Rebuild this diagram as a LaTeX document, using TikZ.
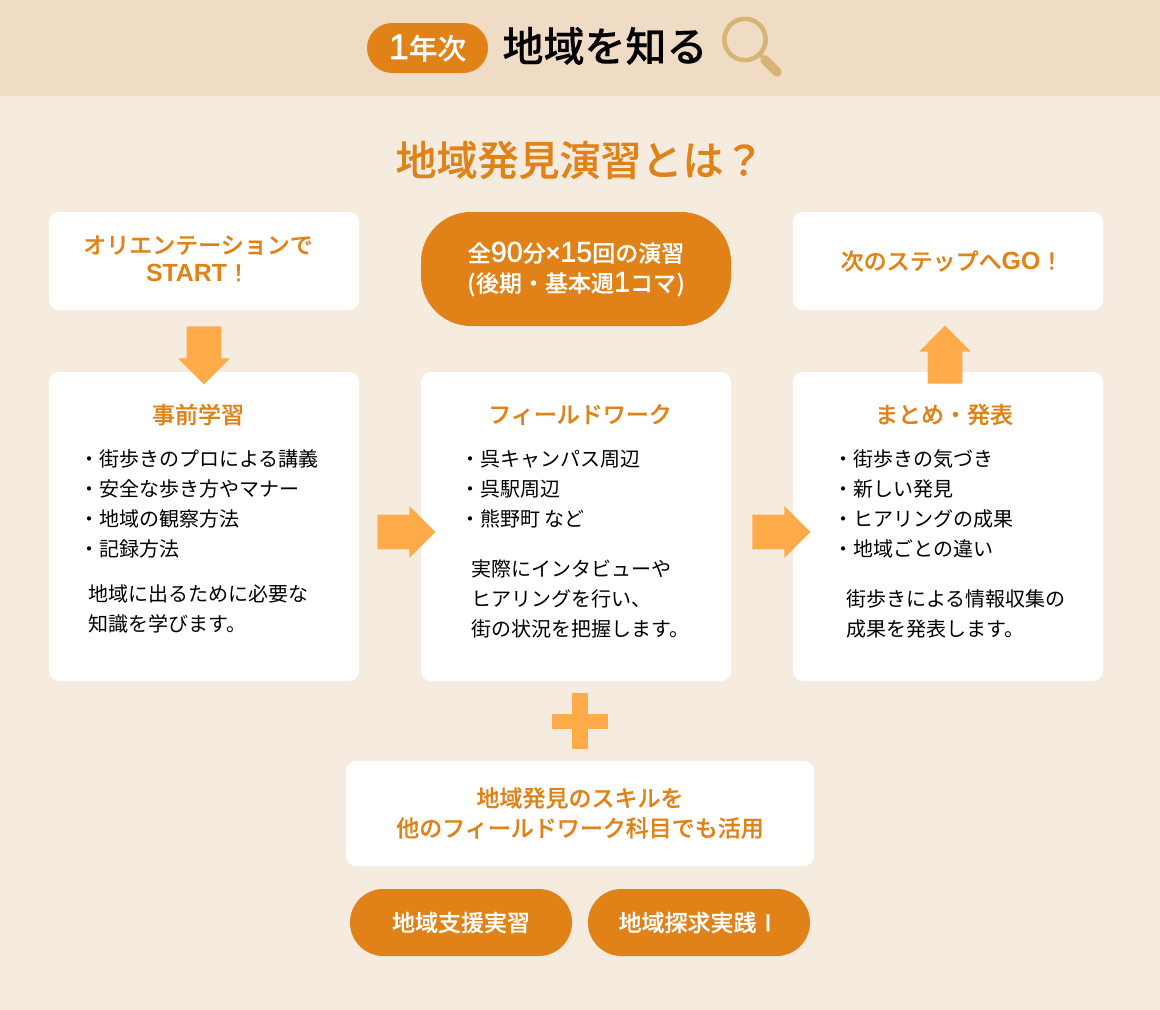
\documentclass[tikz,border=0pt]{standalone}
\usepackage{fontspec}
\setmainfont{Noto Sans CJK JP}[BoldFont={Noto Sans CJK JP Medium},BoldFeatures={FakeBold=0.25}]
\newfontfamily\latinfont[Scale=1.08]{Liberation Sans}
\newfontfamily\digitfont[Scale=1.25,FakeBold=1.2]{Liberation Sans}
\usetikzlibrary{shapes.arrows}
\definecolor{bandcol}{HTML}{F0DCC4}
\definecolor{pagecol}{HTML}{F5EBDF}
\definecolor{orangecol}{HTML}{E08217}
\definecolor{arrowcol}{HTML}{FFAB4A}
\definecolor{lenscol}{HTML}{D5B574}
\newcommand{\lat}[1]{{\latinfont\bfseries #1}}
\newcommand{\digits}[1]{{\digitfont\mdseries #1}}
\tikzset{
	card/.style={fill=white, rounded corners=7.5pt, inner sep=0pt, minimum width=232.5pt},
	pill/.style={fill=orangecol, text=white, inner sep=0pt, align=center, font=\fontsize{17.25}{22.5}\selectfont\bfseries},
	heading/.style={text=orangecol, inner sep=0pt, align=center, font=\fontsize{17.25}{22.5}\selectfont\bfseries},
	body/.style={inner sep=0pt, anchor=west, align=left, font=\fontsize{15}{22.5}\selectfont},
	blockarrow/.style={single arrow, fill=arrowcol, anchor=tail, inner xsep=0pt, inner ysep=12.75pt, minimum width=39pt, minimum height=43.5pt, single arrow head extend=6.4pt, single arrow tip angle=90},
	uprightarrow/.style={blockarrow, inner xsep=12.75pt, inner ysep=0pt},
}
\begin{document}
\begin{tikzpicture}[x=0.75pt, y=-0.75pt]
	\useasboundingbox (0,0) rectangle (1160,1010);
	\fill[pagecol] (0,0) rectangle (1160,1010);
	\fill[bandcol] (0,0) rectangle (1160,96);

	\node[pill, rounded corners=18.75pt, minimum width=90.75pt, minimum height=37.5pt, font=\fontsize{21.5}{26}\selectfont\bfseries] (badge) at (427.5,48) {\digits{1}年次};
	\node[inner sep=0pt, font=\fontsize{30.75}{36}\selectfont\bfseries] (theme) at (605,46) {地域を知る};
	\node[circle, draw=lenscol, line width=3.4pt, inner sep=0pt, minimum size=31pt] (lens) at (745,39.5) {};
	\coordinate (grip) at (765,60);
	\coordinate (grend) at (777,72);
	\draw[lenscol, line width=2.6pt] (lens) ++(16,16) -- (grip);
	\draw[lenscol, line width=7pt, line cap=round] (grip) -- (grend);
	\node[heading, font=\fontsize{30.75}{36}\selectfont\bfseries] (title) at (580,160) {地域発見演習とは？};

	\node[card, minimum height=73.5pt] (start) at (204,261) {};
	\node[heading, font=\fontsize{17.25}{21}\selectfont\bfseries] (startlabel) at (198,258.5) {オリエンテーションで\\\lat{START}！};
	\node[pill, rounded corners=37.5pt, minimum width=232.5pt, minimum height=85.5pt] (course) at (576,269) {全\digits{90}分\lat{×}\digits{15}回の演習\\(\hspace{0.5pt}後期・基本週\digits{1}コマ\hspace{0.5pt})};
	\node[card, minimum height=73.5pt] (next) at (948,261) {};
	\node[heading] (nextlabel) at (952,261) {次のステップへ\lat{GO}！};

	\node[card, minimum height=231.75pt] (prep) at (204,526.5) {};
	\node[card, minimum height=231.75pt] (field) at (576,526.5) {};
	\node[card, minimum height=231.75pt] (report) at (948,526.5) {};

	\node[heading] (preptitle) at (198,414.5) {事前学習};
	\node[body] (preplist) at (79,504) {・街歩きのプロによる講義\\・安全な歩き方やマナー\\・地域の観察方法\\・記録方法};
	\node[body] (preptext) at (88,609) {地域に出るために必要な\\知識を学びます。};

	\node[heading] (fieldtitle) at (580,414.5) {フィールドワーク};
	\node[body] (fieldlist) at (460,489) {・呉キャンパス周辺\\・呉駅周辺\\・熊野町 など};
	\node[body] (fieldtext) at (471,599) {実際にインタビューや\\ヒアリングを行い、\\街の状況を把握します。};

	\node[heading] (reporttitle) at (944,414.5) {まとめ・発表};
	\node[body] (reportlist) at (833,504) {・街歩きの気づき\\・新しい発見\\・ヒアリングの成果\\・地域ごとの違い};
	\node[body] (reporttext) at (846,614) {街歩きによる情報収集の\\成果を発表します。};

	\node[uprightarrow, shape border rotate=270] (arrowdown) at (204,326) {};
	\node[uprightarrow, shape border rotate=90] (arrowup) at (945,384) {};
	\node[blockarrow] (arrowa) at (377,532) {};
	\node[blockarrow] (arrowb) at (752,532) {};

	\fill[arrowcol] (572,693) rectangle (588,749);
	\fill[arrowcol] (552,714) rectangle (608,729);

	\node[card, minimum width=351pt, minimum height=78.75pt] (skill) at (580,813.5) {};
	\node[heading] (skilllabel) at (580,813) {地域発見のスキルを\\他のフィールドワーク科目でも活用};
	\node[pill, rounded corners=25pt, minimum width=166.5pt, minimum height=50.25pt] (support) at (461,922.5) {地域支援実習};
	\node[pill, rounded corners=25pt, minimum width=166.5pt, minimum height=50.25pt] (explore) at (699,922.5) {地域探求実践Ⅰ};
\end{tikzpicture}
\end{document}
